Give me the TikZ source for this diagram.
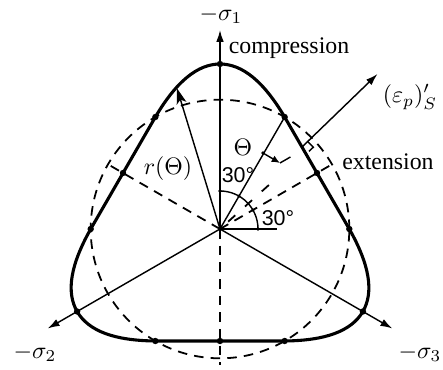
\documentclass[tikz,border=0pt]{standalone}
\usepackage{fontspec}
\setmainfont{Liberation Serif}
\newfontfamily\degfont{Liberation Sans}
\usepackage{tikz}
\usetikzlibrary{arrows.meta}
\tikzset{
  yieldcurve/.style={line width=1.3pt, line join=round},
  guide/.style={line width=0.75pt, dash pattern=on 4pt off 3pt},
  sparse/.style={line width=0.75pt, dash pattern=on 4pt off 5.5pt},
  axis/.style={line width=0.6pt, -{Latex[length=5pt,width=3.2pt]}},
  thin/.style={line width=0.6pt},
  bigdot/.style={fill, radius=3.2},
  smalldot/.style={fill, radius=1.8},
  anglbl/.style={font=\degfont\fontsize{9}{10}\selectfont, inner sep=0pt},
}
\begin{document}
\begin{tikzpicture}[x=0.42pt, y=0.42pt]
\useasboundingbox (-220,-140) rectangle (223,229);
% Centre and axis tips
\coordinate (O) at (0,0);
\coordinate (s1) at (90:199);
\coordinate (s2) at (210:199);
\coordinate (s3) at (330:199);
\coordinate (down) at (0,-136);
\coordinate (hor) at (57,0);
% Dashed reference circle and radii
\draw[guide] (O) circle (129.3);
\draw[guide] (O) -- (down);
\draw[guide] (O) -- (30:129.3);
\draw[guide] (O) -- (150:129.3);
\draw[sparse] (O) ++(42:11) -- (42:74);
% Principal stress axes
\draw[axis] (O) -- (s1);
\draw[axis] (O) -- (s2);
\draw[axis] (O) -- (s3);
\draw[thin] (O) -- (hor);
\draw[thin] (O) -- (60:129.3);
% Yield curve
\draw[yieldcurve] (0:129.3) -- (60:129.3)
  .. controls (73.4:153.6) and (82.2:166.5) .. (90:165)
  .. controls (97.8:166.5) and (106.6:153.6) .. (120:129.3)
  -- (180:129.3)
  .. controls (193.4:153.6) and (202.2:166.5) .. (210:165)
  .. controls (217.8:166.5) and (226.6:153.6) .. (240:129.3)
  -- (300:129.3)
  .. controls (313.4:153.6) and (322.2:166.5) .. (330:165)
  .. controls (337.8:166.5) and (346.6:153.6) .. (360:129.3) -- cycle;
\foreach \a in {0,60,...,300} \fill (\a:129.3) circle[bigdot];
\foreach \a in {30,150,270} \fill (\a:112) circle[bigdot];
\foreach \a in {90,210,330} \fill (\a:165) circle[bigdot];
% Angle arc
\draw[thin] (0:38) arc[start angle=0, end angle=90, radius=38];
\foreach \a in {0,30,60,90} \fill (\a:38) circle[smalldot];
% Radius vector
\coordinate (rt) at (107:147);
\draw[thin, -{Stealth[length=6.5pt,width=4.2pt,inset=1.6pt]}] (O) -- (rt);
% Plastic strain increment
\coordinate (P) at (45:115.9);
\coordinate (E) at (157.5,155);
\draw[thin, -{Latex[length=5pt,width=3.2pt]}] (P) -- (E);
\draw[thin] (P) ++(44:8) -- ++(-46:8) -- ++(224:6);
% Small marker on the 60 degree radius
\coordinate (m1) at (60.5:87.3);
\coordinate (m2) at (60,66);
\fill (m1) circle[smalldot];
\draw[thin, -{Latex[length=3.5pt,width=3pt]}] (m1) -- (m2);
\draw[thin] (m2) -- ++(30:12);
% Labels
\node[inner sep=0pt] (ls1) at (1,214) {$-\sigma_1$};
\node (ls2) at (-185,-124) {$-\sigma_2$};
\node (ls3) at (200,-124) {$-\sigma_3$};
\node (comp) at (69,181) {compression};
\node (ext) at (168,67) {extension};
\node (eps) at (190,132) {$(\varepsilon_p)'_S$};
\node (th) at (23,82) {$\Theta$};
\node (rth) at (-52,60) {$r(\Theta)$};
\node[anglbl] (a1) at (18,54) {30°};
\node[anglbl] (a2) at (58,11) {30°};
\end{tikzpicture}
\end{document}
